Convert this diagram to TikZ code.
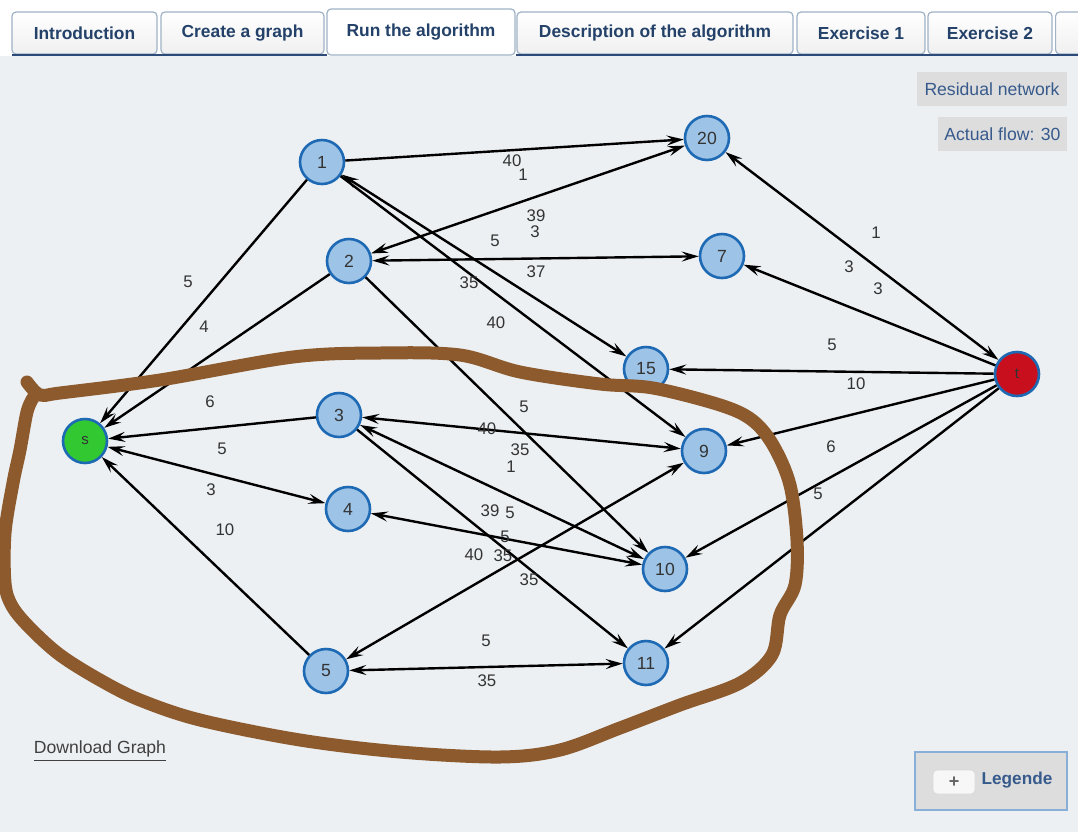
\documentclass[tikz,border=0pt]{standalone}
\usepackage{fontspec}
\setmainfont{Liberation Sans}
\usetikzlibrary{arrows.meta}

\definecolor{canvas}{RGB}{236,240,243}
\definecolor{vfill}{RGB}{157,195,230}
\definecolor{vborder}{RGB}{30,105,180}
\definecolor{sfill}{RGB}{50,200,50}
\definecolor{tfill}{RGB}{200,15,30}
\definecolor{marker}{RGB}{140,90,45}
\definecolor{tabtext}{RGB}{35,65,105}
\definecolor{tabborder}{RGB}{160,178,198}
\definecolor{tabline}{RGB}{45,75,120}
\definecolor{btnfill}{RGB}{221,221,221}
\definecolor{btntext}{RGB}{55,90,140}

\begin{document}
\begin{tikzpicture}[x=0.5pt,y=-0.5pt,
    vertex/.style={draw=vborder,fill=vfill,shape=circle,line width=1.3pt,minimum size=22pt,inner sep=0pt,font=\fontsize{8.8}{10}\selectfont,text=black!80},
    arc/.style={line width=1.2pt,-{Stealth[length=8.5pt,width=5pt,inset=3.2pt]}},
    biarc/.style={line width=1.2pt,{Stealth[length=8.5pt,width=5pt,inset=3.2pt]}-{Stealth[length=8.5pt,width=5pt,inset=3.2pt]}},
    weight/.style={font=\fontsize{8.4}{10}\selectfont,text=black!80,inner sep=0pt},
    tab/.style={draw=tabborder,line width=0.6pt,top color=white,bottom color=black!6,rounded corners=2pt,minimum height=21pt,inner sep=0pt,font=\fontsize{8.7}{10}\bfseries,text=tabtext},
    button/.style={fill=btnfill,inner sep=0pt,font=\fontsize{8.8}{10}\selectfont,text=btntext}]
    \useasboundingbox (0,0) rectangle (1078,832);
    \fill[white] (0,0) rectangle (1078,832);
    \fill[canvas] (0,56) rectangle (1078,832);

    % tab bar
    \node[tab,minimum width=72.5pt] (tabintro) at (84.5,33) {Introduction};
    \node[tab,minimum width=81.5pt] (tabcreate) at (242.5,33) {Create a graph};
    \node[tab,minimum width=138pt] (tabdescr) at (655,33) {Description of the algorithm};
    \node[tab,minimum width=64pt] (tabex1) at (861,33) {Exercise 1};
    \node[tab,minimum width=62pt] (tabex2) at (990,33) {Exercise 2};
    \node[tab,minimum width=30pt,anchor=west] (tabmore) at (1055,33) {};
    \draw[tabline,line width=1pt] (12,55) -- (327,55);
    \draw[tabline,line width=1pt] (516,55) -- (1078,55);
    \node[tab,top color=white,bottom color=white,minimum width=94pt,minimum height=23pt] (tabrun) at (421,32) {Run the algorithm};

    % buttons
    \node[button,minimum width=75pt,minimum height=17pt] (residual) at (992,89) {Residual network};
    \node[button,minimum width=64.5pt,minimum height=17pt] (flow) at (1002.5,134) {Actual flow: 30};
    \node[font=\fontsize{8.8}{10}\selectfont,text=black!75,inner sep=0pt] (download) at (100,751) {\underline{Download Graph}};
    \node[draw={rgb,255:red,135;green,175;blue,215},line width=1pt,fill=btnfill,minimum width=76pt,minimum height=29pt] (legendbox) at (991,781) {};
    \node[draw=black!15,fill=black!3,rounded corners=2pt,minimum width=21pt,minimum height=12pt,inner sep=0pt,font=\fontsize{9}{10}\bfseries,text=black!60] (legendplus) at (954,782) {+};
    \node[font=\fontsize{8.6}{10}\bfseries,text=btntext,inner sep=0pt] (legendtext) at (1017,780) {Legende};

    % vertices
    \node[vertex,fill=sfill,font=\fontsize{7.5}{9}\selectfont] (source) at (85,441) {s};
    \node[vertex,fill=tfill,font=\fontsize{7.5}{9}\selectfont] (sink) at (1017,374) {t};
    \node[vertex] (n1) at (322,162) {1};
    \node[vertex] (n2) at (349,261) {2};
    \node[vertex] (n3) at (339,415) {3};
    \node[vertex] (n4) at (348,509) {4};
    \node[vertex] (n5) at (326,671) {5};
    \node[vertex] (n20) at (707,138) {20};
    \node[vertex] (n7) at (722,256) {7};
    \node[vertex] (n15) at (646,369) {15};
    \node[vertex] (n9) at (704,451) {9};
    \node[vertex] (n10) at (665,569) {10};
    \node[vertex] (n11) at (646,663) {11};

    % residual arcs
    \draw[arc] (n1) -- (source);
    \draw[arc] (n2) -- (source);
    \draw[arc] (n3) -- (source);
    \draw[biarc] (source) -- (n4);
    \draw[arc] (n5) -- (source);
    \draw[arc] (n1) -- (n20);
    \draw[biarc] (n2) -- (n20);
    \draw[biarc] (n2) -- (n7);
    \draw[biarc] (n1) -- (n15);
    \draw[arc] (n1) -- (n9);
    \draw[arc] (n2) -- (n10);
    \draw[biarc] (n3) -- (n9);
    \draw[biarc] (n3) -- (n10);
    \draw[arc] (n3) -- (n11);
    \draw[biarc] (n4) -- (n10);
    \draw[biarc] (n5) -- (n9);
    \draw[biarc] (n5) -- (n11);
    \draw[biarc] (sink) -- (n20);
    \draw[arc] (sink) -- (n7);
    \draw[arc] (sink) -- (n15);
    \draw[arc] (sink) -- (n9);
    \draw[arc] (sink) -- (n10);
    \draw[arc] (sink) -- (n11);

    % capacities
    \foreach \x/\y/\w [count=\k] in {188/282/5, 204/327/4, 210/402/6, 222/449/5, 211/490/3, 225/530/10,
        512/161/40, 523/175/1, 536/216/39, 535/232/3, 495/241/5, 536/272/37, 469/283/35, 496/323/40,
        524/407/5, 487/429/40, 520/450/35, 511/467/1, 490/511/39, 510/513/5, 505/537/5,
        474/555/40, 503/556/35, 529/580/35, 486/641/5, 487/681/35,
        876/233/1, 849/267/3, 878/289/3, 832/345/5, 856/384/10, 831/447/6, 818/494/5}
        \node[weight] (w\k) at (\x,\y) {\w};

    % hand-drawn loop
    \draw[marker,line width=6.5pt,line cap=round,line join=round] plot[smooth,tension=0.55] coordinates {
        (27,382) (40,395) (60,393) (160,380) (293,357) (380,353) (460,355) (520,372)
        (600,384) (653,388) (720,405) (752,420) (773,445) (790,485) (797,540) (795,585)
        (780,615) (772,655) (740,683) (680,705) (620,728) (560,750) (500,757) (400,752)
        (300,740) (200,720) (140,700) (100,680) (60,655) (30,628) (12,606) (5,583)
        (5,533) (13,483) (20,450) (27,412) (33,398)};
\end{tikzpicture}
\end{document}
